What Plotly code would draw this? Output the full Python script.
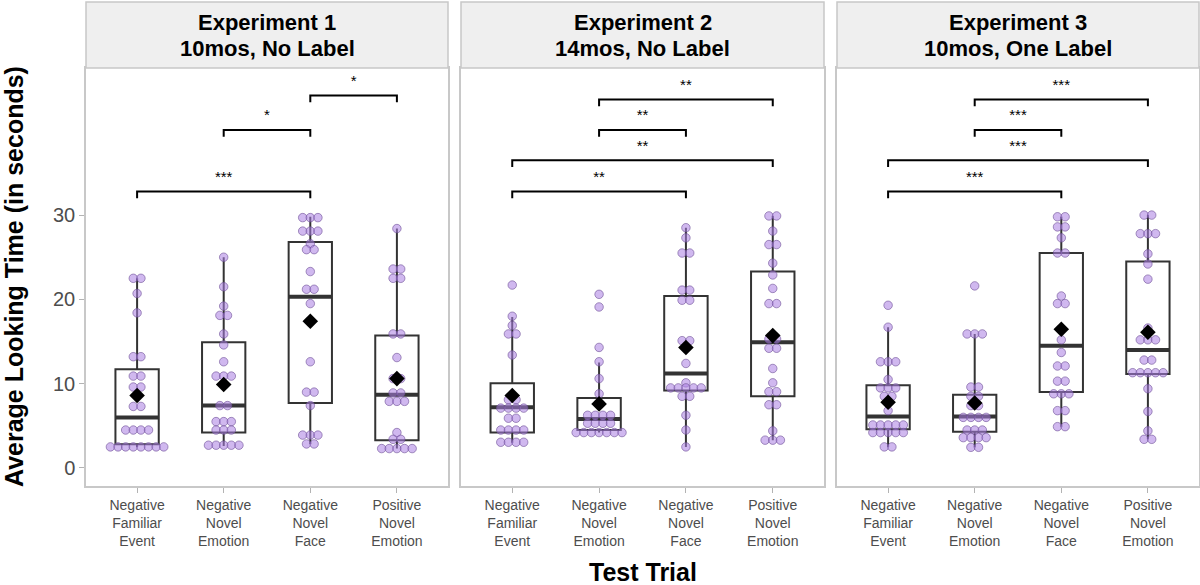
import numpy as np
import plotly.graph_objects as go
from collections import Counter

# ---- data ----
trials = [
    "Negative<br>Familiar<br>Event",
    "Negative<br>Novel<br>Emotion",
    "Negative<br>Novel<br>Face",
    "Positive<br>Novel<br>Emotion",
]
panel_titles = ["Experiment 1", "Experiment 2", "Experiment 3"]
panel_subtitles = ["10mos, No Label", "14mos, No Label", "10mos, One Label"]

# Experiment 1
exp1_points = [
    [22.5, 22.5, 20.7, 18.4, 13.2, 13.2, 10.9, 10.9, 9.6, 9.6, 7.3, 7.3,
     4.5, 4.5, 4.5, 4.5, 2.5, 2.5, 2.5, 2.5, 2.5, 2.5, 2.5, 2.5],
    [25.0, 21.5, 19.2, 18.1, 18.1, 15.9, 14.6, 12.6, 10.9, 10.9, 10.9, 7.4, 7.4,
     5.5, 5.5, 5.5, 4.5, 4.5, 4.5, 2.7, 2.7, 2.7, 2.7, 2.7],
    [29.7, 29.7, 29.7, 28.1, 28.1, 28.1, 26.6, 25.9, 25.9, 23.3, 21.2, 21.2,
     19.5, 12.6, 9.0, 9.0, 7.4, 3.9, 3.9, 3.9, 2.85, 2.85],
    [28.4, 23.6, 23.6, 22.5, 22.5, 15.9, 15.9, 13.1, 10.6, 10.6, 8.9, 8.9,
     7.9, 7.9, 7.9, 4.2, 3.4, 3.4, 2.3, 2.3, 2.3, 2.3, 2.3],
]
exp1_q1 = [2.8, 4.2, 7.7, 3.3]
exp1_median = [6.0, 7.4, 20.3, 8.7]
exp1_q3 = [11.7, 14.9, 26.8, 15.7]
exp1_low = [2.5, 2.6, 2.85, 2.3]
exp1_high = [22.5, 25.0, 29.8, 28.4]
exp1_mean = [8.6, 9.9, 17.4, 10.6]
exp1_pairs = [(0, 2), (1, 2), (2, 3)]
exp1_levels = [32.8, 40.1, 44.2]
exp1_stars = ["***", "*", "*"]

# Experiment 2
exp2_points = [
    [21.7, 18.0, 16.9, 15.9, 15.9, 13.4, 8.1, 8.1, 7.1, 7.1, 7.1, 7.1,
     5.9, 5.9, 4.5, 4.5, 4.5, 4.5, 3.05, 3.05, 3.05, 3.05],
    [20.6, 19.1, 14.3, 12.6, 10.6, 8.8, 7.6, 6.25, 6.25, 6.25, 6.25,
     5.3, 5.3, 5.3, 5.3, 4.2, 4.2, 4.2, 4.2, 4.2, 4.2, 4.2],
    [28.5, 27.3, 25.5, 25.5, 21.1, 21.1, 19.9, 19.9, 15.1, 15.1, 12.4, 10.1,
     9.5, 9.5, 9.5, 9.5, 9.5, 8.5, 8.5, 6.25, 4.5, 2.5],
    [29.9, 29.9, 28.1, 26.5, 26.5, 24.3, 22.9, 21.3, 19.5, 19.5, 15.3, 15.3,
     14.2, 14.2, 11.8, 10.1, 9.05, 9.05, 7.5, 7.5, 4.4, 3.3, 3.3, 3.3],
]
exp2_q1 = [4.2, 4.5, 9.2, 8.5]
exp2_median = [7.2, 5.8, 11.2, 14.9]
exp2_q3 = [10.05, 8.3, 20.4, 23.3]
exp2_low = [3.0, 4.2, 2.5, 3.3]
exp2_high = [17.9, 12.5, 28.5, 29.9]
exp2_mean = [8.6, 7.6, 14.3, 15.7]
exp2_pairs = [(0, 2), (0, 3), (1, 2), (1, 3)]
exp2_levels = [32.8, 36.5, 40.1, 43.7]
exp2_stars = ["**", "**", "**", "**"]

# Experiment 3
exp3_points = [
    [19.3, 16.7, 12.6, 12.6, 12.6, 10.5, 9.5, 9.5, 9.5, 8.5, 8.5, 6.8,
     5.1, 5.1, 5.1, 5.1, 5.1, 4.2, 4.2, 4.2, 4.2, 4.2, 2.5, 2.5],
    [21.6, 15.9, 15.9, 15.9, 9.6, 9.6, 8.5, 8.5, 7.4, 7.4, 6.0, 6.0, 6.0, 6.0,
     4.5, 4.5, 4.5, 3.6, 3.6, 3.6, 3.6, 2.45, 2.45],
    [29.8, 29.8, 28.6, 28.6, 27.3, 25.5, 25.5, 20.4, 19.5, 19.5, 15.2, 13.7,
     12.1, 12.1, 10.3, 10.3, 8.8, 8.8, 8.8, 6.8, 6.8, 4.9, 4.9],
    [30.0, 30.0, 27.8, 27.8, 27.8, 25.4, 24.2, 22.4, 16.6, 15.2, 15.2, 15.2,
     12.8, 12.8, 11.3, 11.3, 11.3, 11.3, 11.3, 9.4, 6.7, 4.4, 3.4, 3.4],
]
exp3_q1 = [4.6, 4.3, 9.0, 11.15]
exp3_median = [6.1, 6.1, 14.5, 14.0]
exp3_q3 = [9.8, 8.7, 25.5, 24.5]
exp3_low = [2.5, 2.45, 4.9, 3.4]
exp3_high = [16.7, 15.9, 29.8, 30.0]
exp3_mean = [7.8, 7.7, 16.45, 16.1]
exp3_pairs = [(0, 2), (0, 3), (1, 2), (1, 3)]
exp3_levels = [32.8, 36.5, 40.1, 43.7]
exp3_stars = ["***", "***", "***", "***"]

panels = [
    (exp1_points, exp1_q1, exp1_median, exp1_q3, exp1_low, exp1_high, exp1_mean,
     exp1_pairs, exp1_levels, exp1_stars),
    (exp2_points, exp2_q1, exp2_median, exp2_q3, exp2_low, exp2_high, exp2_mean,
     exp2_pairs, exp2_levels, exp2_stars),
    (exp3_points, exp3_q1, exp3_median, exp3_q3, exp3_low, exp3_high, exp3_mean,
     exp3_pairs, exp3_levels, exp3_stars),
]

W, H = 1200, 585
FONT = "Liberation Sans, Arial, sans-serif"
BOX_W = 0.5
DOT_STEP = 0.088
BRACKET_DROP = 0.8

x_domains = [(86 / W, 448 / W), (461 / W, 824 / W), (837 / W, 1199 / W)]
y_domain = ((H - 486) / H, (H - 68) / H)
strip_top = (H - 2) / H

fig = go.Figure()

for k, (pts, q1, med, q3, lo, hi, mean, pairs, levels, stars) in enumerate(panels):
    xa = "x" if k == 0 else f"x{k + 1}"
    ya = "y" if k == 0 else f"y{k + 1}"
    cats = list(range(len(trials)))

    # boxes
    fig.add_trace(go.Box(
        x=cats, q1=q1, median=med, q3=q3, lowerfence=lo, upperfence=hi,
        width=BOX_W, whiskerwidth=0, boxpoints=False,
        line=dict(color="#333333", width=2), fillcolor="rgba(0,0,0,0)",
        xaxis=xa, yaxis=ya, showlegend=False, hoverinfo="skip",
    ))

    # thicker median bars
    mx, my = [], []
    for c, m in zip(cats, med):
        mx += [c - BOX_W / 2, c + BOX_W / 2, None]
        my += [m, m, None]
    fig.add_trace(go.Scatter(
        x=mx, y=my, mode="lines", line=dict(color="#333333", width=4),
        xaxis=xa, yaxis=ya, showlegend=False, hoverinfo="skip",
    ))

    # centred dot stacks
    dx, dy = [], []
    for c, vals in zip(cats, pts):
        for v, n in Counter(vals).items():
            for j in range(n):
                dx.append(c + (j - (n - 1) / 2) * DOT_STEP)
                dy.append(v)
    fig.add_trace(go.Scatter(
        x=dx, y=dy, mode="markers",
        marker=dict(size=8.5, color="rgba(170,125,225,0.55)",
                    line=dict(color="rgba(110,80,150,0.6)", width=1)),
        xaxis=xa, yaxis=ya, showlegend=False, hoverinfo="skip",
    ))

    # means
    fig.add_trace(go.Scatter(
        x=cats, y=mean, mode="markers",
        marker=dict(symbol="diamond", size=12, color="black"),
        xaxis=xa, yaxis=ya, showlegend=False, hoverinfo="skip",
    ))

    # significance brackets
    bx, by, tx, ty = [], [], [], []
    for (a, b), lvl in zip(pairs, levels):
        bx += [a, a, b, b, None]
        by += [lvl - BRACKET_DROP, lvl, lvl, lvl - BRACKET_DROP, None]
        tx.append((a + b) / 2)
        ty.append(lvl + 1.6)
    fig.add_trace(go.Scatter(
        x=bx, y=by, mode="lines", line=dict(color="black", width=2),
        xaxis=xa, yaxis=ya, showlegend=False, hoverinfo="skip",
    ))
    fig.add_trace(go.Scatter(
        x=tx, y=ty, mode="text", text=stars, textposition="middle center",
        textfont=dict(family=FONT, size=15, color="black"),
        xaxis=xa, yaxis=ya, showlegend=False, hoverinfo="skip",
    ))

    # axes
    fig.update_layout({
        ("xaxis" if k == 0 else f"xaxis{k + 1}"): dict(
            domain=list(x_domains[k]), anchor=ya, range=[-0.59, 3.59],
            tickvals=cats, ticktext=trials, ticks="outside", ticklen=5,
            tickcolor="#b3b3b3", tickfont=dict(family=FONT, size=14, color="#4d4d4d"),
            showgrid=False, zeroline=False, showline=True, mirror=True,
            linecolor="#c8c8c8", linewidth=1.5,
        ),
        ("yaxis" if k == 0 else f"yaxis{k + 1}"): dict(
            domain=list(y_domain), anchor=xa, range=[-2.14, 47.45],
            tickvals=[0, 10, 20, 30], showticklabels=(k == 0),
            ticks="outside" if k == 0 else "", ticklen=5, tickcolor="#b3b3b3",
            tickfont=dict(family=FONT, size=20, color="#4d4d4d"),
            showgrid=False, zeroline=False, showline=True, mirror=True,
            linecolor="#c8c8c8", linewidth=1.5,
        ),
    })

    # facet strip
    fig.add_shape(type="rect", xref="paper", yref="paper",
                  x0=x_domains[k][0], x1=x_domains[k][1],
                  y0=y_domain[1], y1=strip_top,
                  fillcolor="#efefef", line=dict(color="#c8c8c8", width=1.5))
    xc = sum(x_domains[k]) / 2
    fig.add_annotation(x=xc, y=(H - 23) / H, xref="paper", yref="paper",
                       text=f"<b>{panel_titles[k]}</b>", xanchor="center", yanchor="middle",
                       showarrow=False, font=dict(family=FONT, size=22, color="black"))
    fig.add_annotation(x=xc, y=(H - 48) / H, xref="paper", yref="paper",
                       text=f"<b>{panel_subtitles[k]}</b>", xanchor="center", yanchor="middle",
                       showarrow=False, font=dict(family=FONT, size=22, color="black"))

fig.add_annotation(x=14 / W, y=(y_domain[0] + y_domain[1]) / 2, xref="paper", yref="paper",
                   text="<b>Average Looking Time (in seconds)</b>", textangle=-90,
                   xanchor="center", yanchor="middle",
                   showarrow=False, font=dict(family=FONT, size=25, color="black"))
fig.add_annotation(x=643 / W, y=(H - 572) / H, xref="paper", yref="paper",
                   text="<b>Test Trial</b>", xanchor="center", yanchor="middle",
                   showarrow=False, font=dict(family=FONT, size=25, color="black"))

fig.update_layout(
    width=W, height=H, margin=dict(l=0, r=0, t=0, b=0),
    plot_bgcolor="white", paper_bgcolor="white",
    font=dict(family=FONT), showlegend=False,
)

fig.write_html("out.html", config={"displayModeBar": False},
               post_script="document.body.style.margin='0px';")
